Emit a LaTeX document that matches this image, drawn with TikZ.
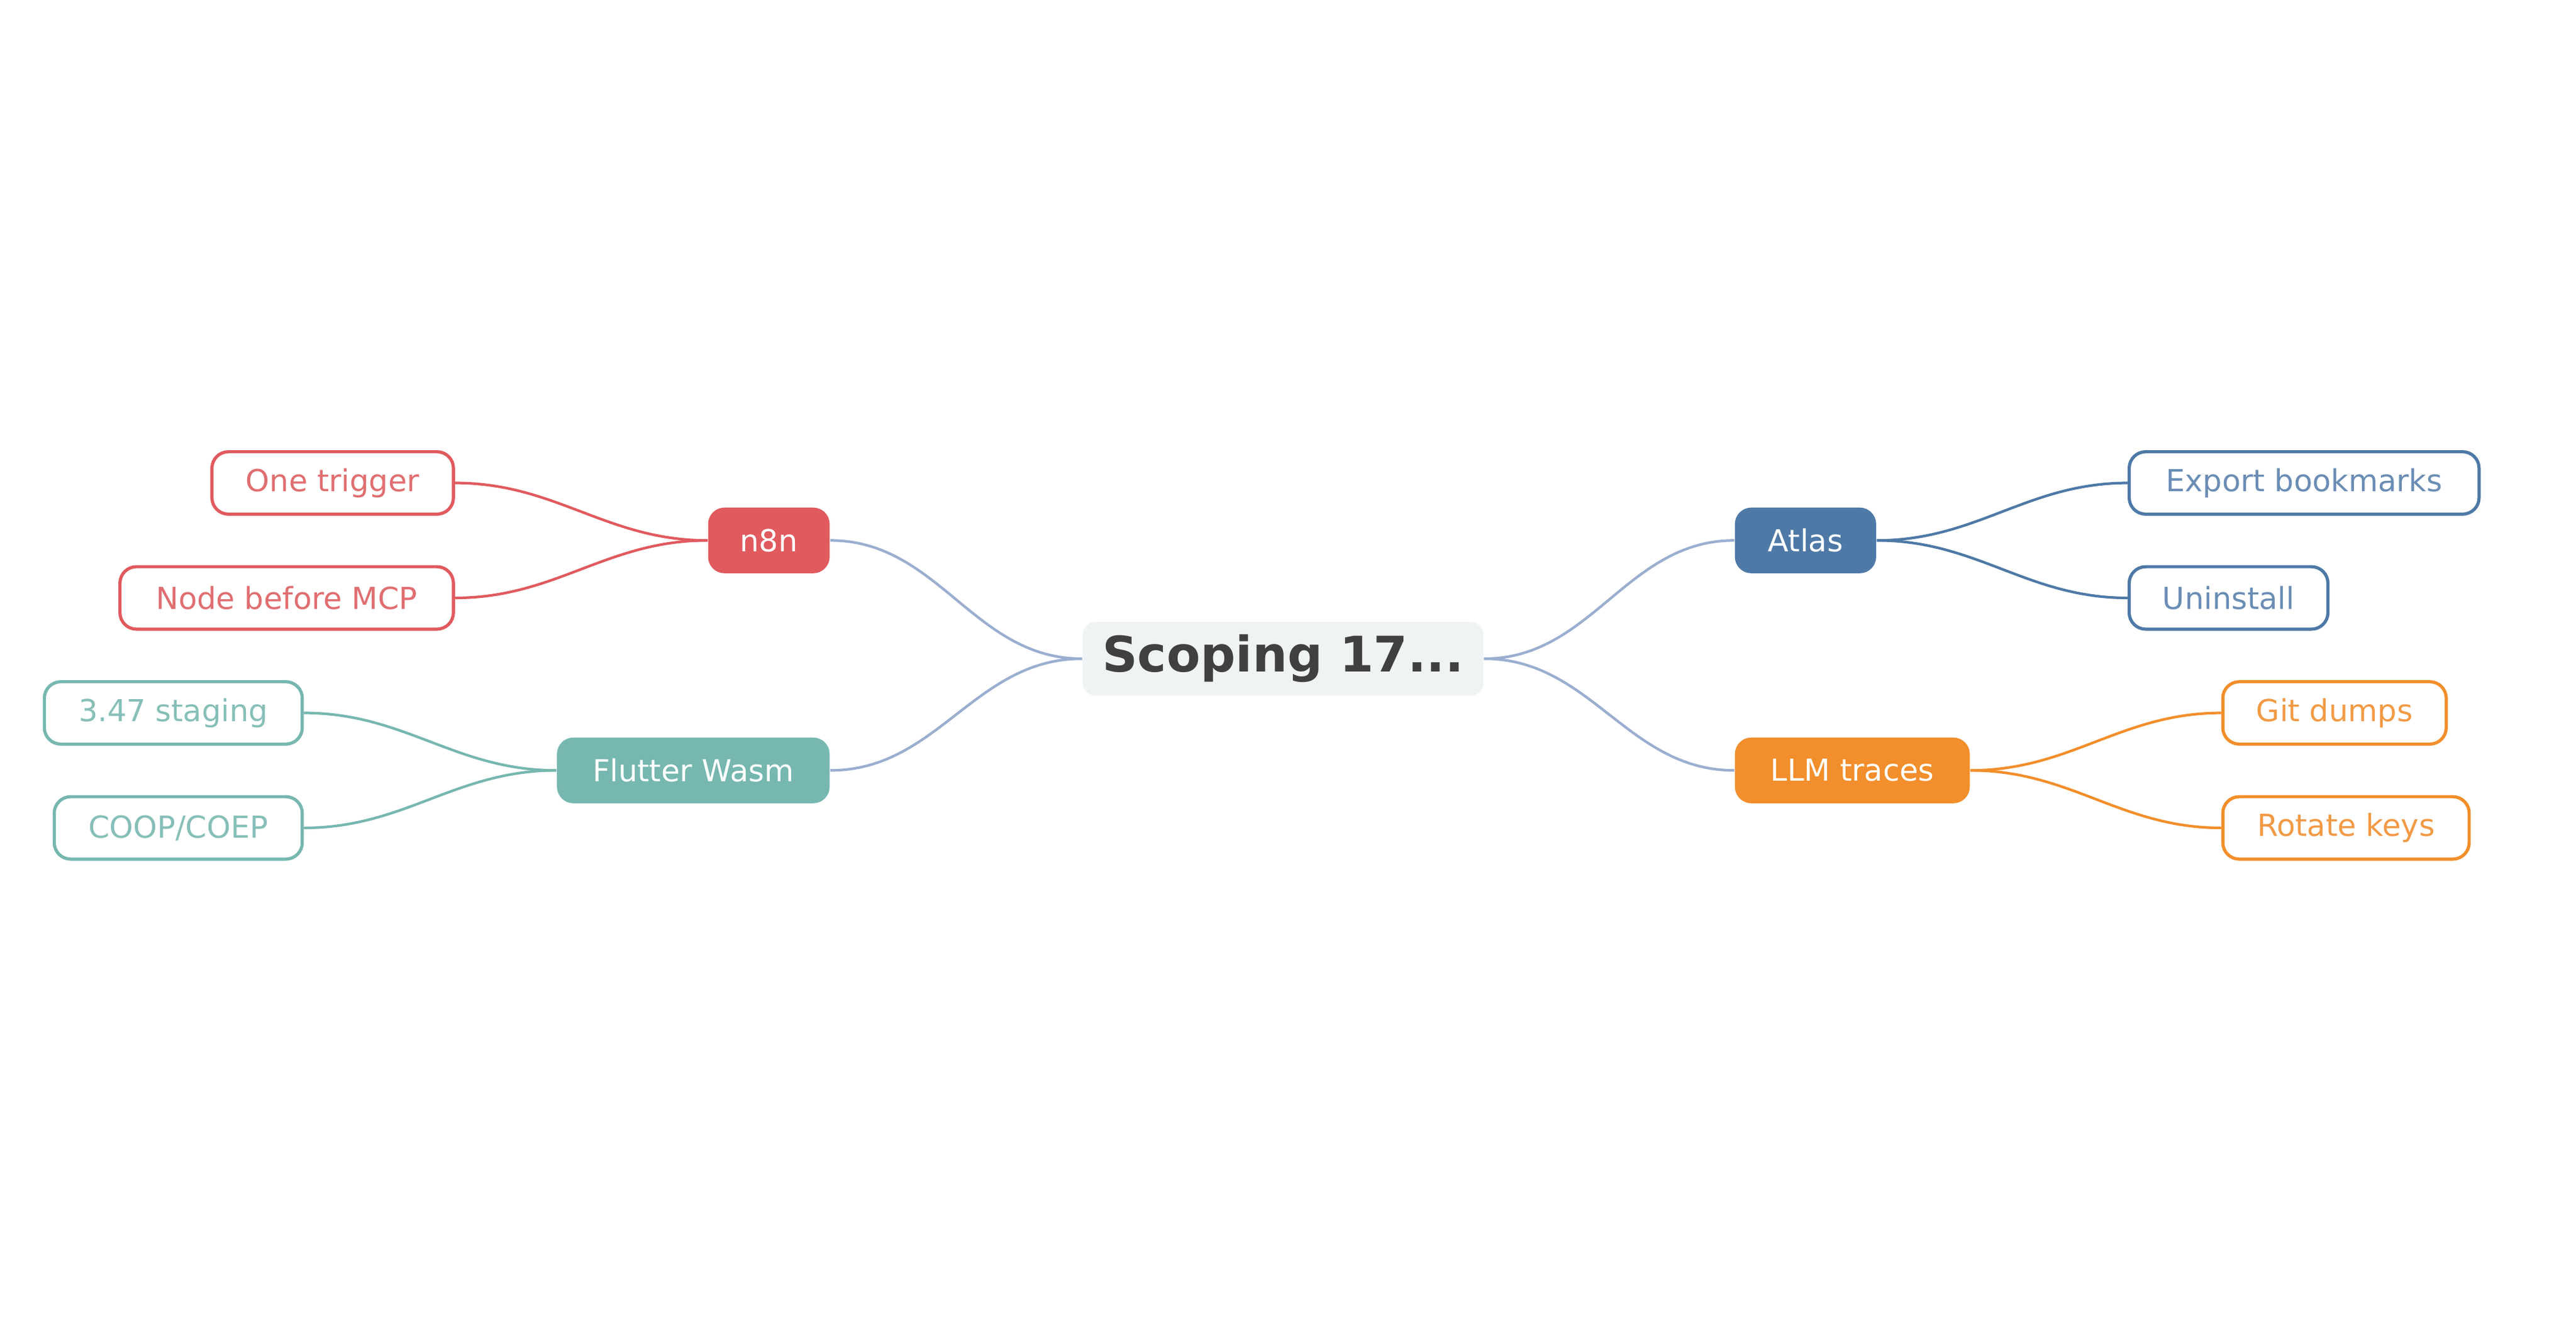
\documentclass[tikz,border=0pt]{standalone}
\usepackage{fontspec}
\setmainfont{DejaVu Sans}
\usetikzlibrary{positioning}
\definecolor{rootfill}{HTML}{EFF3F4}
\definecolor{roottext}{HTML}{404040}
\definecolor{trunk}{HTML}{9AAED0}
\definecolor{cred}{HTML}{E05A5E}
\definecolor{lred}{HTML}{E06E70}
\definecolor{cteal}{HTML}{76B7B0}
\definecolor{lteal}{HTML}{86BFB8}
\definecolor{cblue}{HTML}{4E79A7}
\definecolor{lblue}{HTML}{6A8DB5}
\definecolor{corange}{HTML}{F28E2B}
\definecolor{lorange}{HTML}{F29A45}
\begin{document}
\begin{tikzpicture}[x=0.02cm,y=-0.02cm,
    root node/.style={rectangle,rounded corners=0.16cm,fill=rootfill,text=roottext,
      font=\fontsize{17}{20}\selectfont\bfseries,minimum height=0.9cm,inner sep=0pt},
    main node/.style={rectangle,rounded corners=0.2cm,fill=#1,text=white,
      font=\fontsize{10.5}{12}\selectfont,minimum height=0.8cm,inner sep=0pt},
    leaf node/.style={rectangle,rounded corners=0.2cm,draw=c#1,line width=1.1pt,fill=white,
      text=l#1,font=\fontsize{10.5}{12}\selectfont,minimum height=0.76cm,inner sep=0pt},
    trunk edge/.style={draw=trunk,line width=0.9pt},
    branch edge/.style={draw=#1,line width=0.9pt}
    ]
    \useasboundingbox (0,0) rectangle (1568,806);

    % centre and branches
    \node[root node,minimum width=4.88cm](root) at (781,401){Scoping 17...};
    \node[main node=cred,minimum width=1.48cm](n8n) at (468,329){n8n};
    \node[main node=cteal,minimum width=3.32cm](flutter) at (422,469){Flutter Wasm};
    \node[main node=cblue,minimum width=1.72cm](atlas) at (1099,329){Atlas};
    \node[main node=corange,minimum width=2.86cm](llm) at (1127.5,469){LLM traces};

    % leaves
    \node[leaf node=red,minimum width=2.94cm](trigger) at (202.5,294){One trigger};
    \node[leaf node=red,minimum width=4.06cm](mcp) at (174.5,364){Node before MCP};
    \node[leaf node=teal,minimum width=3.14cm](staging) at (105.5,434){3.47 staging};
    \node[leaf node=teal,minimum width=3.02cm](coop) at (108.5,504){COOP/COEP};
    \node[leaf node=blue,minimum width=4.26cm](export) at (1402.5,294){Export bookmarks};
    \node[leaf node=blue,minimum width=2.42cm](uninstall) at (1356.5,364){Uninstall};
    \node[leaf node=orange,minimum width=2.72cm](git) at (1421,434){Git dumps};
    \node[leaf node=orange,minimum width=3.0cm](rotate) at (1428,504){Rotate keys};

    \begin{scope}[on background layer/.code={}]
    \path[trunk edge]
      (root.east) edge[out=0,in=180] (atlas.west)
      (root.east) edge[out=0,in=180] (llm.west)
      (root.west) edge[out=180,in=0] (n8n.east)
      (root.west) edge[out=180,in=0] (flutter.east);
    \path[branch edge=cred]
      (n8n.west) edge[out=180,in=0] (trigger.east)
      (n8n.west) edge[out=180,in=0] (mcp.east);
    \path[branch edge=cteal]
      (flutter.west) edge[out=180,in=0] (staging.east)
      (flutter.west) edge[out=180,in=0] (coop.east);
    \path[branch edge=cblue]
      (atlas.east) edge[out=0,in=180] (export.west)
      (atlas.east) edge[out=0,in=180] (uninstall.west);
    \path[branch edge=corange]
      (llm.east) edge[out=0,in=180] (git.west)
      (llm.east) edge[out=0,in=180] (rotate.west);
    \end{scope}
\end{tikzpicture}
\end{document}
